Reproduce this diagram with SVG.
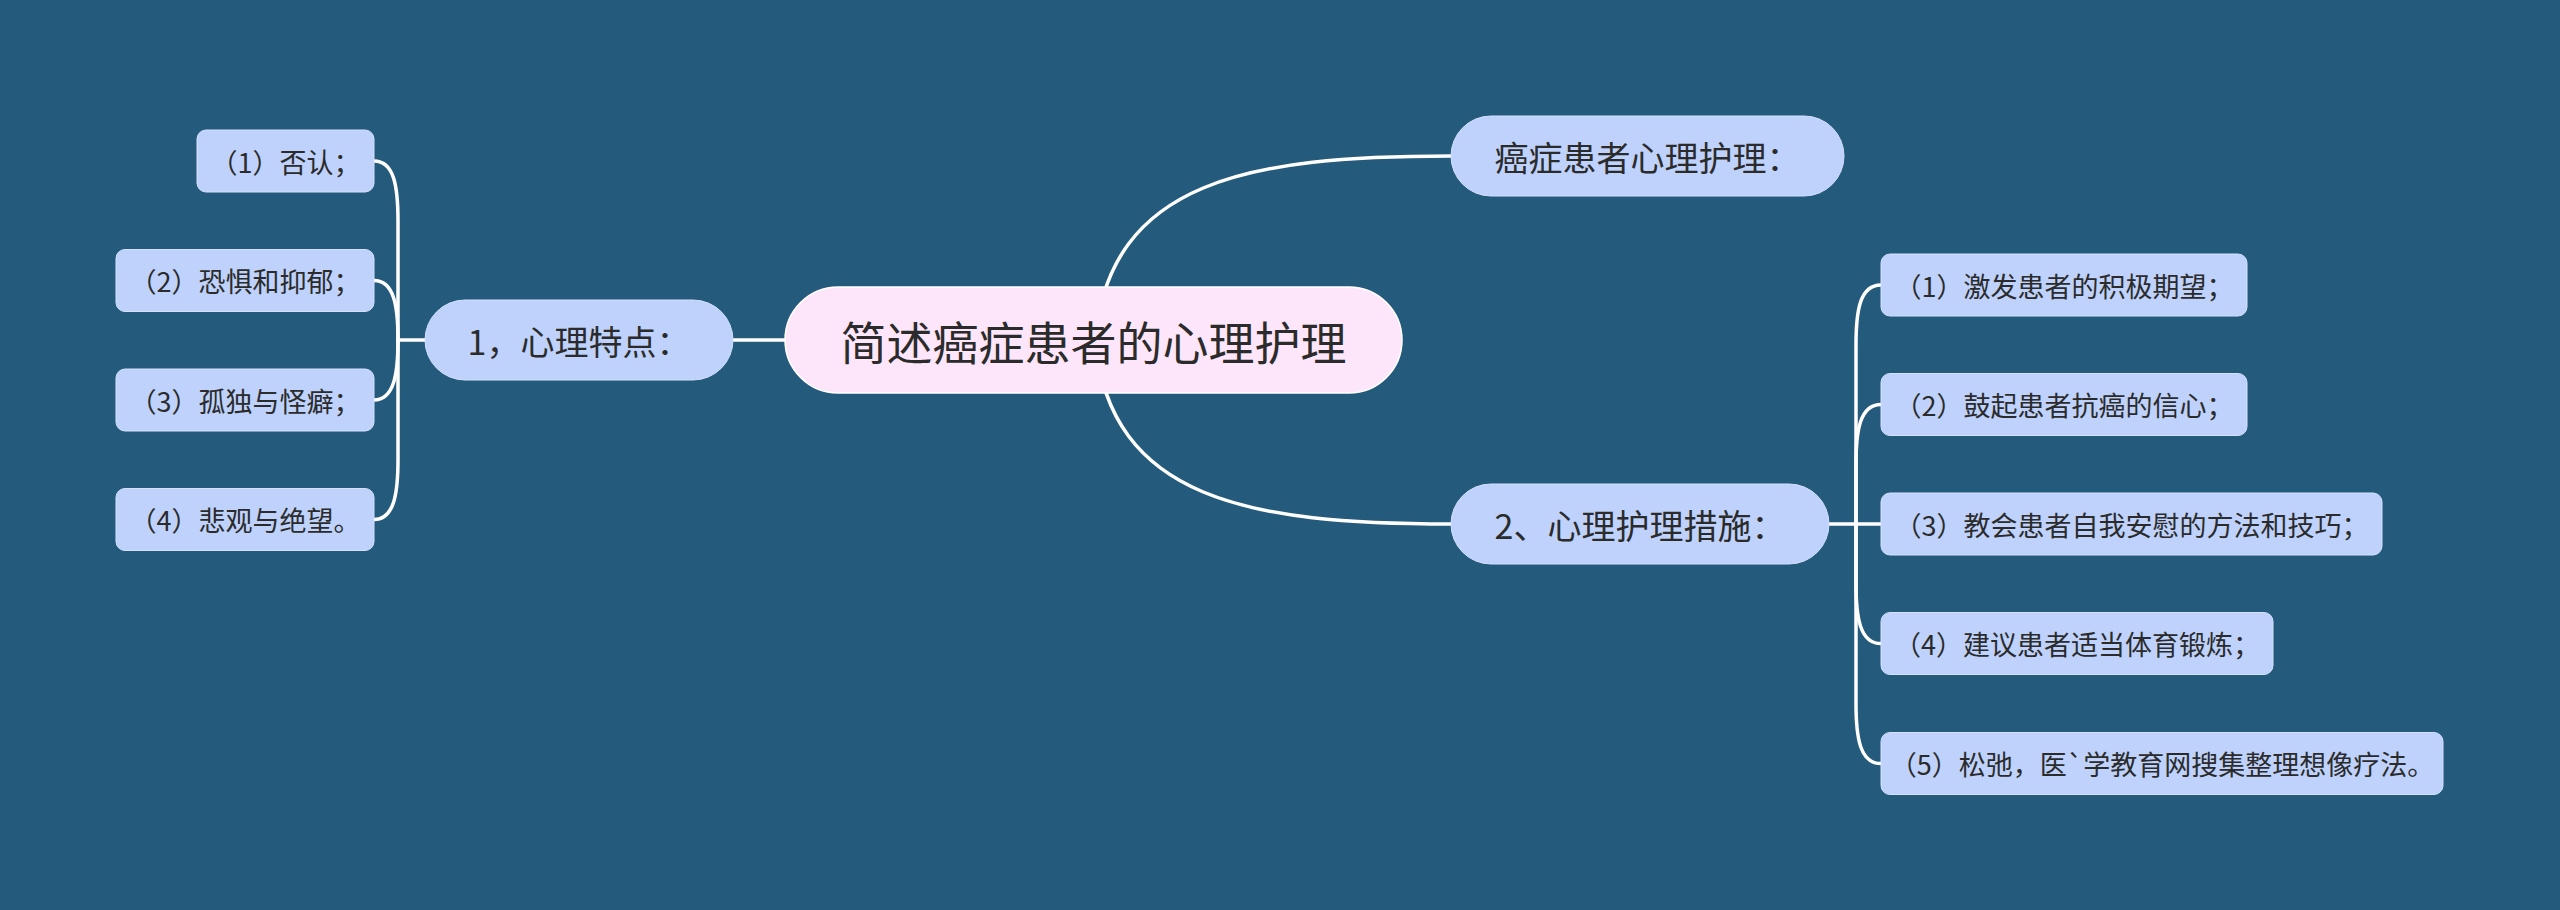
<svg xmlns="http://www.w3.org/2000/svg" width="2560" height="910" viewBox="0 0 2560 910">
<style>
.bg{fill:#245a7b}
.line{fill:none;stroke:#ffffff;stroke-width:3.5;stroke-linecap:round}
.root{fill:#fde6fa;stroke:#ffffff;stroke-width:1.5}
.main{fill:#bed2fc;stroke:#d4e1fd;stroke-width:1}
.leaf{fill:#bed2fc;stroke:#d4e1fd;stroke-width:1}
text{font-family:"Noto Sans CJK SC","Noto Sans",sans-serif;fill:#2b2b2b;text-anchor:middle;dominant-baseline:central}
.t0{font-size:46px}
.t1{font-size:34px}
.t2{font-size:27px}
</style>
<rect class="bg" x="0" y="0" width="2560" height="910"/>
<g id="connectors">
<path class="line" d="M1095 340 C1110 180 1250 156 1451 156"/>
<path class="line" d="M1095 340 C1110 500 1250 524 1451 524"/>
<path class="line" d="M785 340 H733"/>
<path class="line" d="M425 340 H398"/>
<path class="line" d="M398 340 V221 C398 186 394 161 374 161"/>
<path class="line" d="M398 340 C398 306 394 280.5 374 280.5"/>
<path class="line" d="M398 340 C398 374 394 400 374 400"/>
<path class="line" d="M398 340 V459.5 C398 494 394 519.5 374 519.5"/>
<path class="line" d="M1829 524 H1881"/>
<path class="line" d="M1856 524 V345 C1856 310 1860 285 1881 285"/>
<path class="line" d="M1856 524 V464.5 C1856 430 1860 404.5 1881 404.5"/>
<path class="line" d="M1856 524 V583.5 C1856 618 1860 643.5 1881 643.5"/>
<path class="line" d="M1856 524 V703.5 C1856 738 1860 763.5 1881 763.5"/>
</g>
<g id="root">
<rect class="root" x="785" y="287" width="617" height="106" rx="53"/>
<text class="t0" x="1093.5" y="340">简述癌症患者的心理护理</text>
</g>
<g id="n-top">
<rect class="main" x="1451" y="116" width="393" height="80" rx="40"/>
<text class="t1" x="1647.5" y="156">癌症患者心理护理：</text>
</g>
<g id="n-left">
<rect class="main" x="425" y="300" width="308" height="80" rx="40"/>
<text class="t1" x="579" y="340">1，心理特点：</text>
</g>
<g id="n-right">
<rect class="main" x="1451" y="484" width="378" height="80" rx="40"/>
<text class="t1" x="1640" y="524">2、心理护理措施：</text>
</g>
<g id="l1">
<rect class="leaf" x="197" y="130" width="177" height="62" rx="9"/>
<text class="t2" x="285.5" y="161">（1）否认；</text>
</g>
<g id="l2">
<rect class="leaf" x="116" y="249.5" width="258" height="62" rx="9"/>
<text class="t2" x="245" y="280.5">（2）恐惧和抑郁；</text>
</g>
<g id="l3">
<rect class="leaf" x="116" y="369" width="258" height="62" rx="9"/>
<text class="t2" x="245" y="400">（3）孤独与怪癖；</text>
</g>
<g id="l4">
<rect class="leaf" x="116" y="488.5" width="258" height="62" rx="9"/>
<text class="t2" x="245" y="519.5">（4）悲观与绝望。</text>
</g>
<g id="r1">
<rect class="leaf" x="1881" y="254" width="366" height="62" rx="9"/>
<text class="t2" x="2064" y="285">（1）激发患者的积极期望；</text>
</g>
<g id="r2">
<rect class="leaf" x="1881" y="373.5" width="366" height="62" rx="9"/>
<text class="t2" x="2064" y="404.5">（2）鼓起患者抗癌的信心；</text>
</g>
<g id="r3">
<rect class="leaf" x="1881" y="493" width="501" height="62" rx="9"/>
<text class="t2" x="2131.5" y="524">（3）教会患者自我安慰的方法和技巧；</text>
</g>
<g id="r4">
<rect class="leaf" x="1881" y="612.5" width="392" height="62" rx="9"/>
<text class="t2" x="2077" y="643.5">（4）建议患者适当体育锻炼；</text>
</g>
<g id="r5">
<rect class="leaf" x="1881" y="732.5" width="562" height="62" rx="9"/>
<text class="t2" x="2162" y="763.5">（5）松弛，医`学教育网搜集整理想像疗法。</text>
</g>
</svg>
